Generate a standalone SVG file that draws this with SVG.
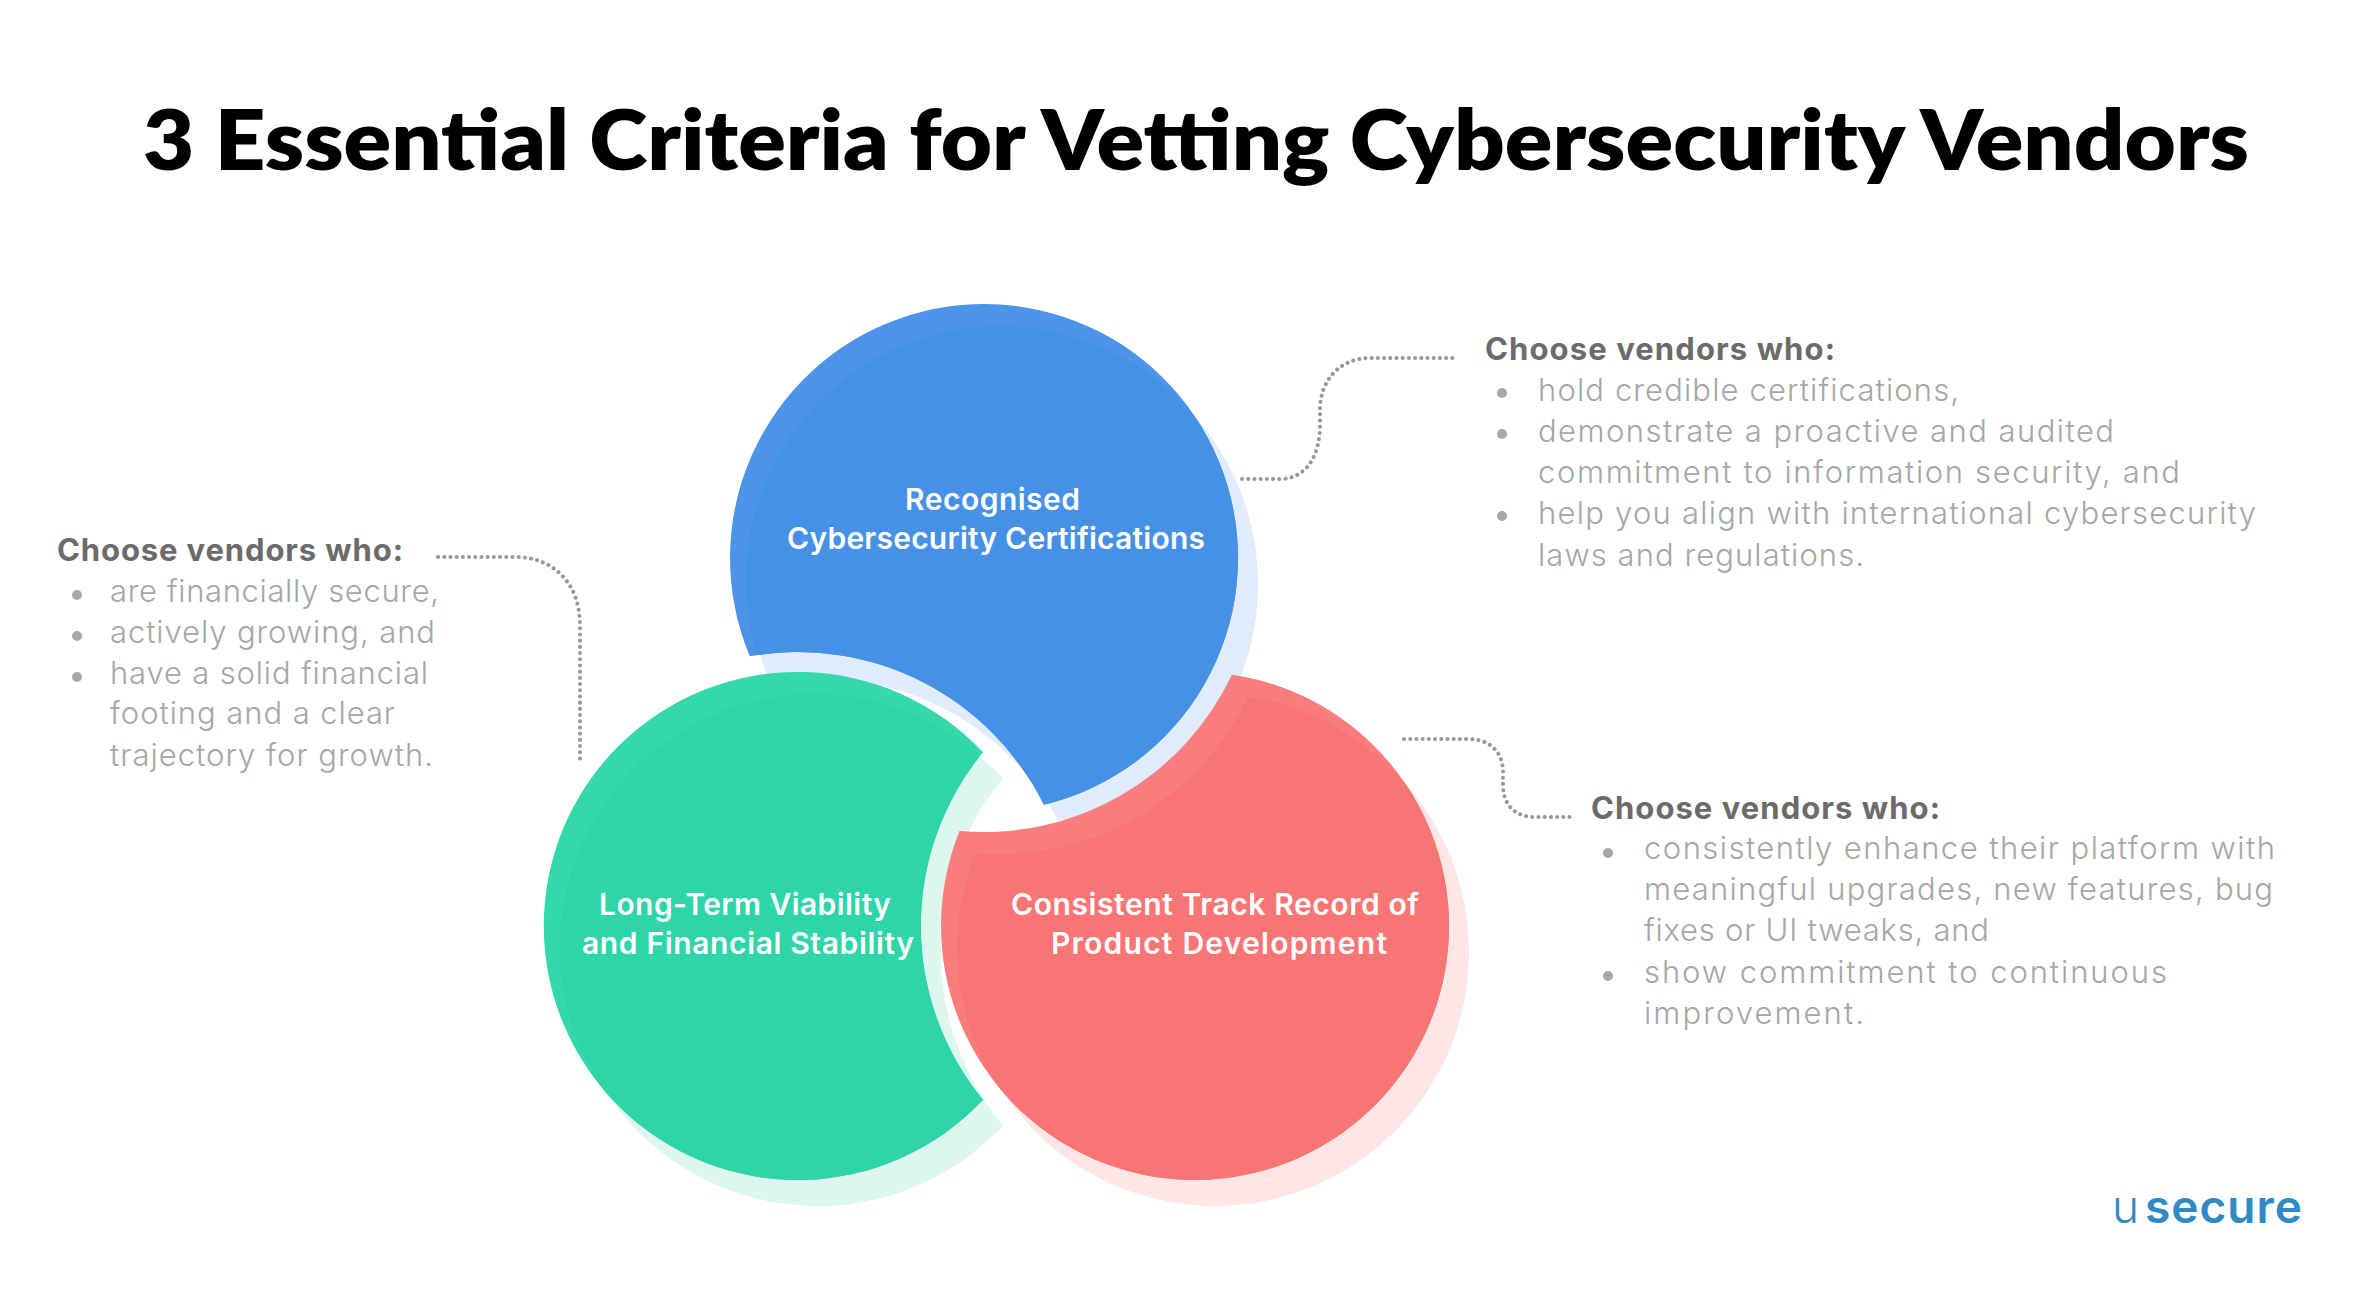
<svg xmlns="http://www.w3.org/2000/svg" xmlns:xlink="http://www.w3.org/1999/xlink" width="2375" height="1312" viewBox="0 0 2375 1312">
<style>
text{font-family:"Inter","Liberation Sans",sans-serif}
.title{font-family:"Lato","Liberation Sans",sans-serif;font-size:84px;font-weight:800;fill:#000}
.head{font-size:31px;font-weight:700;fill:#6b6b6b}
.body{font-size:31px;font-weight:300;fill:#a6a6a6}
.label{font-size:30px;font-weight:600;fill:#fff}
.bullet{fill:#a8a8a8}
.link{fill:none;stroke:#999;stroke-width:4;stroke-linecap:round;stroke-dasharray:.1 6.1}
</style>
<defs>
<path id="pb" d="M749.8 656.3A254 254 0 1 1 1043.8 804.9A274 274 0 0 0 749.8 656.3Z"/>
<path id="pg" d="M983 752.2A254 254 0 1 0 983 1099.8A274 274 0 0 1 983 752.2Z"/>
<path id="pr" d="M1231.9 674.7A254 254 0 1 1 959.5 830.9A274 274 0 0 0 1231.9 674.7Z"/>
<clipPath id="cb"><use href="#pb"/></clipPath>
<clipPath id="cg"><use href="#pg"/></clipPath>
<clipPath id="cr"><use href="#pr"/></clipPath>
</defs>
<rect width="2375" height="1312" fill="#fff"/>
<text class="title" x="143" y="170" textLength="2106" lengthAdjust="spacingAndGlyphs">3 Essential Criteria for Vetting Cybersecurity Vendors</text>
<g id="connectors">
<path class="link" d="M1242 479H1280C1306 479 1320 456 1320 425V410C1320 380 1340 358 1370 358H1454"/>
<path class="link" d="M438 557H515C555 557 580 585 580 625V762"/>
<path class="link" d="M1404 739H1468C1490 739 1503 752 1503 772V785C1503 805 1515 817 1535 817H1571"/>
</g>
<g id="node-blue">
<use href="#pb" x="20" y="26" fill="#e0ebfb"/>
<use href="#pb" fill="#4c94e8"/>
<g clip-path="url(#cb)"><use href="#pb" x="16" y="22" fill="#4690e6"/></g>
<text class="label" x="905" y="510" textLength="175">Recognised</text>
<text class="label" x="787" y="549" textLength="418">Cybersecurity Certifications</text>
</g>
<g id="node-green">
<use href="#pg" x="20" y="26" fill="#ddf7ef"/>
<use href="#pg" fill="#35d8ac"/>
<g clip-path="url(#cg)"><use href="#pg" x="16" y="22" fill="#2dd5a8"/></g>
<text class="label" x="599" y="915" textLength="292">Long-Term Viability</text>
<text class="label" x="582" y="954" textLength="332">and Financial Stability</text>
</g>
<g id="node-red">
<use href="#pr" x="20" y="26" fill="#fde6e5"/>
<use href="#pr" fill="#f97d7e"/>
<g clip-path="url(#cr)"><use href="#pr" x="16" y="22" fill="#f77575"/></g>
<text class="label" x="1011" y="915" textLength="408">Consistent Track Record of</text>
<text class="label" x="1051" y="954" textLength="336">Product Development</text>
</g>
<g id="note-top">
<text class="head" x="1485" y="360" textLength="350">Choose vendors who:</text>
<circle class="bullet" cx="1502" cy="393" r="5"/>
<circle class="bullet" cx="1502" cy="434" r="5"/>
<circle class="bullet" cx="1502" cy="516" r="5"/>
<text class="body" x="1538" y="401" textLength="421">hold credible certifications,</text>
<text class="body" x="1538" y="442" textLength="576">demonstrate a proactive and audited</text>
<text class="body" x="1538" y="483" textLength="642">commitment to information security, and</text>
<text class="body" x="1538" y="524" textLength="718">help you align with international cybersecurity</text>
<text class="body" x="1538" y="566" textLength="326">laws and regulations.</text>
</g>
<g id="note-left">
<text class="head" x="57" y="561" textLength="346">Choose vendors who:</text>
<circle class="bullet" cx="77" cy="595" r="5"/>
<circle class="bullet" cx="77" cy="636" r="5"/>
<circle class="bullet" cx="77" cy="677" r="5"/>
<text class="body" x="110" y="602" textLength="329">are financially secure,</text>
<text class="body" x="110" y="643" textLength="325">actively growing, and</text>
<text class="body" x="110" y="684" textLength="318">have a solid financial</text>
<text class="body" x="110" y="724" textLength="285">footing and a clear</text>
<text class="body" x="110" y="766" textLength="323">trajectory for growth.</text>
</g>
<g id="note-bottom">
<text class="head" x="1591" y="819" textLength="349">Choose vendors who:</text>
<circle class="bullet" cx="1608" cy="853" r="5"/>
<circle class="bullet" cx="1608" cy="976" r="5"/>
<text class="body" x="1644" y="859" textLength="631">consistently enhance their platform with</text>
<text class="body" x="1644" y="900" textLength="629">meaningful upgrades, new features, bug</text>
<text class="body" x="1644" y="941" textLength="345">fixes or UI tweaks, and</text>
<text class="body" x="1644" y="983" textLength="523">show commitment to continuous</text>
<text class="body" x="1644" y="1024" textLength="220">improvement.</text>
</g>
<g id="logo">
<text x="2112" y="1223" font-size="46" fill="#2f8ac6" font-weight="300">u<tspan dx="6" font-weight="600" letter-spacing="1">secure</tspan></text>
</g>
</svg>
